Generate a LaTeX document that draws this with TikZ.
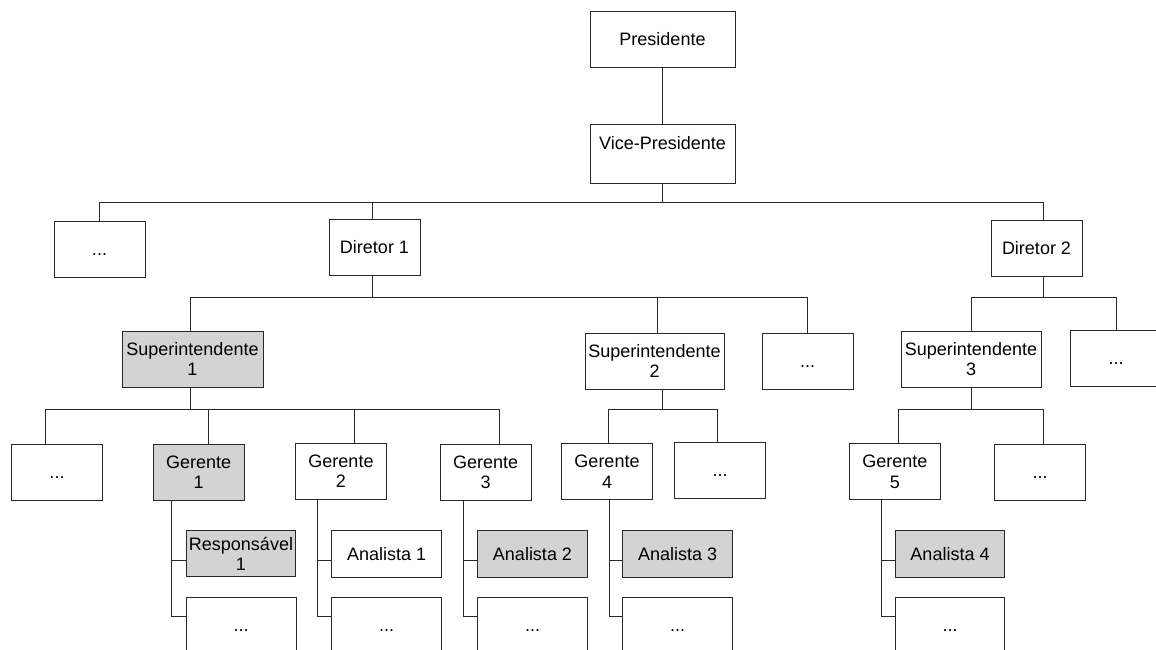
\documentclass[tikz,border=0pt]{standalone}
\usepackage{fontspec}
\setmainfont{Liberation Sans}
\usetikzlibrary{calc}
\definecolor{boxgray}{RGB}{211,211,211}
\definecolor{linecol}{RGB}{40,40,40}
\begin{document}
\begin{tikzpicture}[x=1pt,y=-1pt,
  font=\fontsize{18}{20.5}\selectfont,
  box/.style={draw=linecol, line width=1pt, fill=white, inner sep=1pt, align=center,
    minimum width=91pt, minimum height=56pt, execute at begin node=\vphantom{A}},
  wide/.style={minimum width=140pt},
  low/.style={minimum width=109.5pt, minimum height=46.5pt},
  hi/.style={fill=boxgray},
  conn/.style={draw=linecol, line width=1pt}]
\useasboundingbox (0,0) rectangle (1156,649);
\clip (0,0) rectangle (1156,649);

% level 0-1
\node[box, minimum width=145pt] (pres) at (662.5,39) {Presidente};
\node[box, minimum width=145pt, minimum height=59pt] (vp) at (662.5,153.5) {Vice-Presidente\\\vphantom{A}};

% directors
\node[box] (dots1) at (99.5,249) {...};
\node[box] (d1) at (374.5,247.5) {Diretor 1};
\node[box] (d2) at (1036.5,248) {Diretor 2};

% superintendents
\node[box, wide, minimum width=141pt, hi] (sup1) at (192.5,359) {Superintendente\\1};
\node[box, wide, minimum width=139pt] (sup2) at (654.5,361) {Superintendente\\2};
\node[box] (dots2) at (807.5,361) {...};
\node[box, wide] (sup3) at (971,359) {Superintendente\\3};
\node[box] (dots3) at (1116,358) {...};

% managers
\node[box] (dots4) at (57,472.5) {...};
\node[box, hi] (g1) at (198.7,472.3) {Gerente\\1};
\node[box] (g2) at (341,471) {Gerente\\2};
\node[box] (g3) at (485.7,472.2) {Gerente\\3};
\node[box] (g4) at (607,471.7) {Gerente\\4};
\node[box] (dots5) at (720.2,470.2) {...};
\node[box] (g5) at (894.8,471.9) {Gerente\\5};
\node[box] (dots6) at (1040,472.3) {...};

% level 5
\node[box, low, hi] (r1) at (241,553.7) {Responsável\\1};
\node[box, minimum width=110pt] (dots7) at (241,625) {...};
\node[box, low] (a1) at (386.7,554) {Analista 1};
\node[box, minimum width=109.5pt] (dots8) at (386.7,625) {...};
\node[box, low, hi] (a2) at (532.5,554) {Analista 2};
\node[box, minimum width=109.5pt] (dots9) at (532.5,625) {...};
\node[box, low, hi] (a3) at (677.7,554) {Analista 3};
\node[box, minimum width=109.5pt] (dots10) at (677.7,625) {...};
\node[box, low, hi] (a4) at (950,554) {Analista 4};
\node[box, minimum width=109.5pt] (dots11) at (950,625) {...};

% connectors
\draw[conn] (pres) -- (vp);
\draw[conn] (vp.south) -- ++(0,19) -| (dots1.north);
\draw[conn] (vp.south) -- ++(0,19) -| ([xshift=-2.5pt]d1.north);
\draw[conn] (vp.south) -- ++(0,19) -| ([xshift=6.5pt]d2.north);

\draw[conn] ([xshift=-2.5pt]d1.south) -- ++(0,21.5) -| ([xshift=-1.8pt]sup1.north);
\draw[conn] ([xshift=-2.5pt]d1.south) -- ++(0,21.5) -| ([xshift=2.8pt]sup2.north);
\draw[conn] ([xshift=-2.5pt]d1.south) -- ++(0,21.5) -| (dots2.north);

\draw[conn] ([xshift=6.5pt]d2.south) -- ++(0,21) -| (sup3.north);
\draw[conn] ([xshift=6.5pt]d2.south) -- ++(0,21) -| (dots3.north);

\draw[conn] ([xshift=-1.8pt]sup1.south) -- ++(0,22.3) -| ([xshift=-11.3pt]dots4.north);
\draw[conn] ([xshift=-1.8pt]sup1.south) -- ++(0,22.3) -| ([xshift=10pt]g1.north);
\draw[conn] ([xshift=-1.8pt]sup1.south) -- ++(0,22.3) -| ([xshift=13pt]g2.north);
\draw[conn] ([xshift=-1.8pt]sup1.south) -- ++(0,22.3) -| ([xshift=13.3pt]g3.north);

\draw[conn] ([xshift=7.8pt]sup2.south) -- ++(0,20.3) -| ([xshift=1.3pt]g4.north);
\draw[conn] ([xshift=7.8pt]sup2.south) -- ++(0,20.3) -| ([xshift=-3.2pt]dots5.north);

\draw[conn] (sup3.south) -- ++(0,22.3) -| ([xshift=3.9pt]g5.north);
\draw[conn] (sup3.south) -- ++(0,22.3) -| ([xshift=3.3pt]dots6.north);

\draw[conn] ([xshift=19pt]g1.south west) |- ([yshift=-6.6pt]r1.west);
\draw[conn] ([xshift=19pt]g1.south west) |- ([yshift=-19.7pt]dots7.north west);
\draw[conn] ([xshift=22.8pt]g2.south west) |- ([yshift=-6.3pt]a1.west);
\draw[conn] ([xshift=22.8pt]g2.south west) |- ([yshift=-19.7pt]dots8.north west);
\draw[conn] ([xshift=23.5pt]g3.south west) |- ([yshift=-6.3pt]a2.west);
\draw[conn] ([xshift=23.5pt]g3.south west) |- ([yshift=-19.7pt]dots9.north west);
\draw[conn] ([xshift=48.2pt]g4.south west) |- ([yshift=-6.3pt]a3.west);
\draw[conn] ([xshift=48.2pt]g4.south west) |- ([yshift=-19.7pt]dots10.north west);
\draw[conn] ([xshift=32.4pt]g5.south west) |- ([yshift=-6.3pt]a4.west);
\draw[conn] ([xshift=32.4pt]g5.south west) |- ([yshift=-19.7pt]dots11.north west);
\end{tikzpicture}
\end{document}
